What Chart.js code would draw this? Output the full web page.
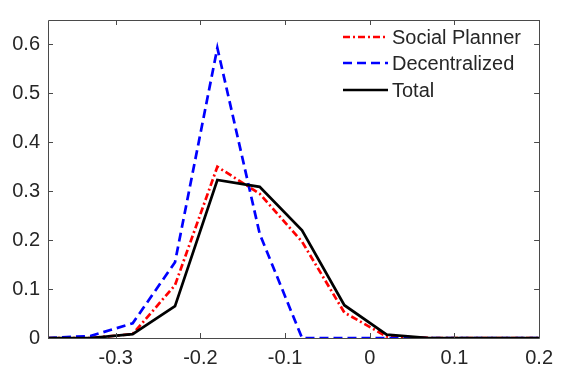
<!DOCTYPE html>
<html>
<head>
<meta charset="utf-8">
<script src="https://cdn.jsdelivr.net/npm/chart.js@4"></script>
<style>
  html, body { margin: 0; padding: 0; background: #fff; }
  #wrap { width: 561px; height: 374px; }
</style>
</head>
<body>
<div id="wrap"><canvas id="grafico" width="561" height="374"></canvas></div>
<script>
// datos
const xVals = [-0.38, -0.33, -0.28, -0.23, -0.18, -0.13, -0.08, -0.03, 0.02, 0.07, 0.12, 0.17, 0.22];
const socialPlanner = [0, 0, 0.008, 0.108, 0.35, 0.295, 0.197, 0.052, 0.003, 0, 0, 0, 0];
const decentralized = [0, 0.004, 0.03, 0.155, 0.593, 0.213, 0, 0, 0, 0, 0, 0, 0];
const total = [0, 0, 0.008, 0.065, 0.323, 0.309, 0.22, 0.067, 0.007, 0, 0, 0, 0];
const xTicks = [-0.3, -0.2, -0.1, 0, 0.1, 0.2];
const yTicks = [0, 0.1, 0.2, 0.3, 0.4, 0.5, 0.6];

const FUENTE = '"Liberation Sans", Arial, Helvetica, sans-serif';
const GRIS = '#262626';

const puntos = (ys) => xVals.map((x, i) => ({ x: x, y: ys[i] }));

// caja y ticks hacia adentro (estilo matlab)
const cajaEjes = {
    id: 'cajaEjes',
    afterDatasetsDraw(chart) {
        const { ctx, chartArea: a, scales } = chart;
        ctx.save();
        ctx.strokeStyle = '#4a4a4a';
        ctx.lineWidth = 1;
        ctx.beginPath();
        ctx.rect(Math.round(a.left) + 0.5, Math.round(a.top) + 0.5, Math.round(a.right - a.left), Math.round(a.bottom - a.top));
        const largo = 5;
        xTicks.forEach(v => {
            const px = Math.round(scales.x.getPixelForValue(v)) + 0.5;
            ctx.moveTo(px, a.bottom); ctx.lineTo(px, a.bottom - largo);
            ctx.moveTo(px, a.top); ctx.lineTo(px, a.top + largo);
        });
        yTicks.forEach(v => {
            const py = Math.round(scales.y.getPixelForValue(v)) + 0.5;
            ctx.moveTo(a.left, py); ctx.lineTo(a.left + largo, py);
            ctx.moveTo(a.right, py); ctx.lineTo(a.right - largo, py);
        });
        ctx.stroke();
        ctx.restore();
    }
};

// leyenda dentro del area, arriba a la derecha
const leyenda = {
    id: 'leyenda',
    afterDraw(chart) {
        const { ctx } = chart;
        const x0 = 343, x1 = 388, xt = 392;
        const filas = [37, 63, 90];
        ctx.save();
        chart.data.datasets.forEach((ds, i) => {
            const y = filas[i];
            ctx.strokeStyle = ds.borderColor;
            ctx.lineWidth = ds.borderWidth;
            ctx.setLineDash(ds.borderDash || []);
            ctx.beginPath();
            ctx.moveTo(x0, y);
            ctx.lineTo(x1, y);
            ctx.stroke();
            ctx.setLineDash([]);
            ctx.fillStyle = GRIS;
            ctx.font = '20px ' + FUENTE;
            ctx.textBaseline = 'middle';
            ctx.textAlign = 'left';
            ctx.fillText(ds.label, xt, y + 1);
        });
        ctx.restore();
    }
};

new Chart(document.getElementById('grafico'), {
    type: 'line',
    data: {
        datasets: [
            { label: 'Social Planner', data: puntos(socialPlanner), borderColor: '#ff0000', borderWidth: 2.7, borderDash: [7, 3, 2, 3], order: 2 },
            { label: 'Decentralized', data: puntos(decentralized), borderColor: '#0000ff', borderWidth: 2.7, borderDash: [9, 5], order: 1 },
            { label: 'Total', data: puntos(total), borderColor: '#000000', borderWidth: 2.7, order: 0 }
        ]
    },
    options: {
        responsive: false,
        animation: false,
        elements: { point: { radius: 0 }, line: { tension: 0, fill: false } },
        layout: { padding: { top: 8, right: 19, left: 0, bottom: 0 } },
        plugins: { legend: { display: false }, tooltip: { enabled: false } },
        scales: {
            x: {
                type: 'linear',
                min: -0.38,
                max: 0.2,
                afterBuildTicks: (s) => { s.ticks = xTicks.map(v => ({ value: v })); },
                afterFit: (s) => { s.height = 36; },
                grid: { display: false, drawTicks: false },
                border: { display: false },
                ticks: {
                    padding: 8,
                    color: GRIS,
                    font: { family: FUENTE, size: 20 },
                    maxRotation: 0,
                    autoSkip: false,
                    callback: (v) => String(Math.round(v * 10) / 10)
                }
            },
            y: {
                type: 'linear',
                min: 0,
                max: 0.65,
                afterBuildTicks: (s) => { s.ticks = yTicks.map(v => ({ value: v })); },
                afterFit: (s) => { s.width = 48; },
                grid: { display: false, drawTicks: false },
                border: { display: false },
                ticks: {
                    padding: 8,
                    color: GRIS,
                    font: { family: FUENTE, size: 20 },
                    autoSkip: false,
                    callback: (v) => String(Math.round(v * 10) / 10)
                }
            }
        }
    },
    plugins: [cajaEjes, leyenda]
});
</script>
</body>
</html>
